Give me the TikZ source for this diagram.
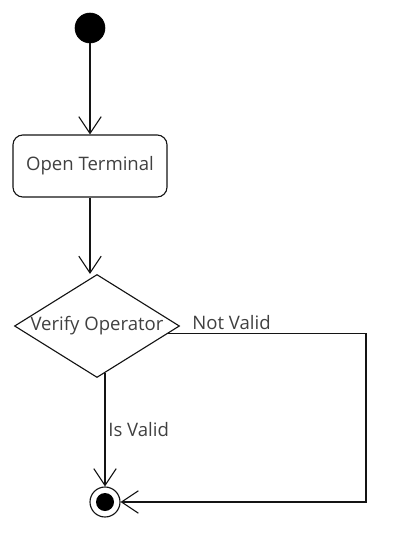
\documentclass[tikz,border=0pt]{standalone}
\usepackage{fontspec}
\setmainfont{Open Sans}
\usepackage{xcolor}
\usepackage{tikz}
\usetikzlibrary{shapes.geometric, arrows.meta, positioning, calc}
\definecolor{umlline}{RGB}{20,20,20}
\definecolor{umltext}{RGB}{64,64,64}
\tikzset{
    actstart/.style={circle, fill=black, draw=black, minimum size=0.75cm, inner sep=0pt},
    actbox/.style={rectangle, draw=umlline, rounded corners=7pt, minimum width=3.85cm, minimum height=1.55cm, align=center, text=umltext, line width=0.8pt},
    actdecision/.style={diamond, draw=umlline, minimum width=4.125cm, minimum height=2.575cm, inner sep=0pt, text=umltext, line width=0.8pt},
    actendring/.style={circle, draw=umlline, minimum size=0.75cm, inner sep=0pt, line width=0.8pt},
    actenddot/.style={circle, fill=black, minimum size=0.45cm, inner sep=0pt},
    actflow/.style={-{Straight Barb[length=0.42cm, width=0.56cm, line width=0.8pt]}, draw=umlline, line width=0.8pt},
    actguard/.style={text=umltext, inner sep=2pt}
}

\begin{document}
\begin{tikzpicture}[x=0.025cm, y=-0.025cm, font=\fontsize{13.2}{16}\selectfont]
\useasboundingbox (0,0) rectangle (408,557);

\node[actstart] (start) at (90,28) {};
\node[actbox] (openterm) at (90,166) {Open Terminal};
\node[actdecision] (verify) at (97,326) {\makebox[0pt]{\raisebox{-2pt}{Verify Operator}}};
\node[actendring] (final) at (105,502) {};
\node[actenddot] (finaldot) at (final) {};
\coordinate (bend) at (366,502);

\draw[actflow] (start) -- (openterm);
\draw[actflow] (openterm) -- (openterm.south |- verify.north);
\draw[actflow] (final.north |- verify.-80) -- node[actguard, right] {Is Valid} (final);
\draw[actflow] (verify.-6.5) -| node[actguard, above, pos=0.16] {Not Valid} (bend) -- (final);

\end{tikzpicture}
\end{document}
